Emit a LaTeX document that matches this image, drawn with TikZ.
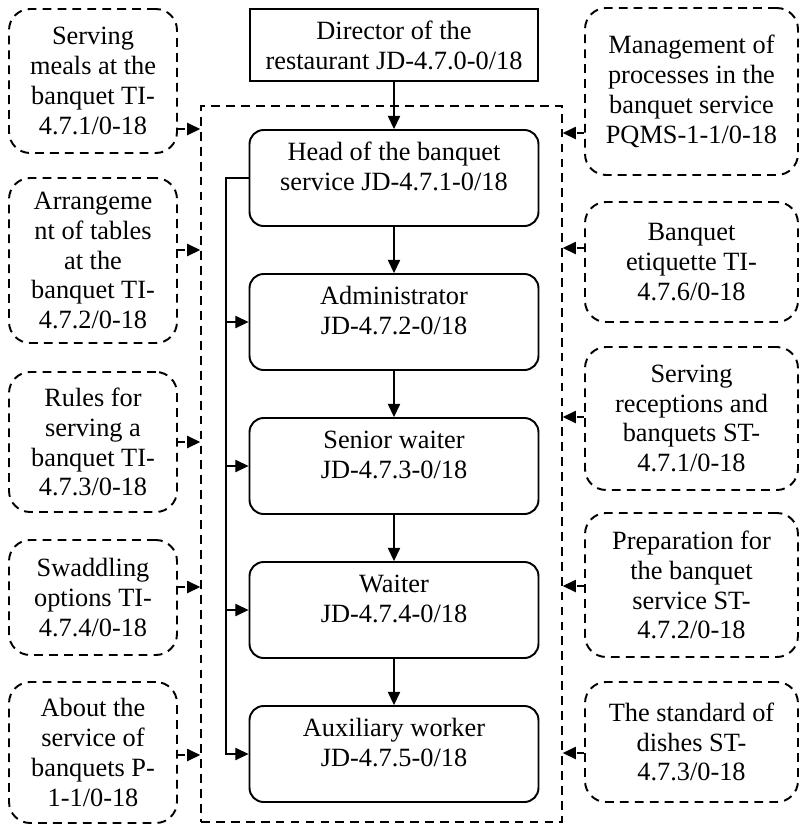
\documentclass[tikz,border=0pt]{standalone}
\usepackage{fontspec}
\setmainfont{Liberation Serif}
\usepackage{tikz}
\usetikzlibrary{arrows.meta}

\tikzset{
  post/.style={draw, rounded corners=8pt, line width=1.1pt, minimum width=5.78cm, minimum height=1.92cm, align=center, text depth=13pt, inner sep=0pt},
  doc/.style={draw, dash pattern=on 5pt off 3.5pt, rounded corners=12pt, line width=1.1pt, align=center, inner sep=0pt},
  link/.style={-{Triangle[length=7.5pt,width=7pt]}, line width=0.6pt},
  reflink/.style={link, line width=0.8pt, dash pattern=on 4pt off 3pt}
}

\begin{document}
\begin{tikzpicture}[x=0.02cm, y=-0.02cm, font=\fontsize{15}{17}\selectfont]
\useasboundingbox (0,0) rectangle (800,826);

\node [draw, line width=1.1pt, minimum width=5.76cm, minimum height=1.44cm, align=center, inner sep=0pt] (director) at (394,45) {Director of the\\restaurant JD-4.7.0-0/18};
\node [draw, dash pattern=on 5pt off 3.5pt, line width=0.9pt, minimum width=7.22cm, minimum height=14.32cm, inner sep=0pt] (frame) at (381.5,464) {};

\node [post] (head) at (394,178) {Head of the banquet\\service JD-4.7.1-0/18};
\node [post] (admin) at (394,322) {Administrator\\JD-4.7.2-0/18};
\node [post] (senior) at (394,466) {Senior waiter\\JD-4.7.3-0/18};
\node [post] (waiter) at (394,610) {Waiter\\JD-4.7.4-0/18};
\node [post] (aux) at (394,754) {Auxiliary worker\\JD-4.7.5-0/18};

\node [doc, minimum width=3.36cm, minimum height=2.88cm] (meals) at (93,81) {Serving\\meals at the\\banquet TI-\\4.7.1/0-18};
\node [doc, minimum width=3.36cm, minimum height=3.3cm] (tables) at (93,260.5) {Arrangeme\\nt of tables\\at the\\banquet TI-\\4.7.2/0-18};
\node [doc, minimum width=3.36cm, minimum height=2.8cm] (rules) at (93,442) {Rules for\\serving a\\banquet TI-\\4.7.3/0-18};
\node [doc, minimum width=3.36cm, minimum height=2.3cm] (swaddling) at (93,597.5) {Swaddling\\options TI-\\4.7.4/0-18};
\node [doc, minimum width=3.36cm, minimum height=2.82cm] (about) at (93,752.5) {About the\\service of\\banquets P-\\1-1/0-18};

\node [doc, minimum width=4.26cm, minimum height=3.34cm] (processes) at (691.5,91.5) {Management of\\processes in the\\banquet service\\PQMS-1-1/0-18};
\node [doc, minimum width=4.26cm, minimum height=2.4cm] (etiquette) at (691.5,262) {Banquet\\etiquette TI-\\4.7.6/0-18};
\node [doc, minimum width=4.26cm, minimum height=2.86cm] (receptions) at (691.5,418.5) {Serving\\receptions and\\banquets ST-\\4.7.1/0-18};
\node [doc, minimum width=4.26cm, minimum height=2.88cm] (preparation) at (691.5,585) {Preparation for\\the banquet\\service ST-\\4.7.2/0-18};
\node [doc, minimum width=4.26cm, minimum height=2.4cm] (dishes) at (691.5,742) {The standard of\\dishes ST-\\4.7.3/0-18};

\draw [link] (director) -- (head);
\foreach \a/\b in {head/admin, admin/senior, senior/waiter, waiter/aux}
  \draw [link] (\a) -- (\b);

\coordinate (bus) at (226,178);
\draw [link] (head.west) -- (bus) |- (aux.west);
\foreach \n in {admin, senior, waiter}
  \draw [link] (bus |- \n.west) -- (\n.west);

\foreach \n/\y in {meals/129, tables/250, rules/442, swaddling/587, about/755}
  \draw [reflink] (\n.east |- 0,\y) -- (frame.west |- 0,\y);
\foreach \n/\y in {processes/133, etiquette/248, receptions/417, preparation/586, dishes/753}
  \draw [reflink] (\n.west |- 0,\y) -- (frame.east |- 0,\y);
\end{tikzpicture}
\end{document}
